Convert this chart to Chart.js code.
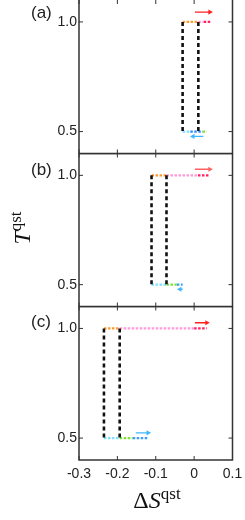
<!DOCTYPE html>
<html>
<head>
<meta charset="utf-8">
<script src="https://cdn.jsdelivr.net/npm/chart.js@4/dist/chart.umd.min.js"></script>
<style>
  body { margin: 0; background: #fff; }
  #wrap { position: relative; width: 245px; height: 520px; overflow: hidden; }
  canvas { position: absolute; left: 0; }
  .tag { position: absolute; left: 31px; font: 17px 'Liberation Sans', Arial, sans-serif; line-height: 17px; color: #222; }
  .ttl { position: absolute; font-family: 'Liberation Serif', 'Times New Roman', serif; font-size: 24px; color: #111; white-space: nowrap; line-height: 1; }
  .ttl sup { font-size: 17px; vertical-align: 9px; }
</style>
</head>
<body>
<div id="wrap">
  <canvas id="pa" width="245" height="155" style="top:0px"></canvas>
  <canvas id="pb" width="245" height="155" style="top:153px"></canvas>
  <canvas id="pc" width="245" height="214" style="top:306px"></canvas>
  <div class="tag" style="top:4px">(a)</div>
  <div class="tag" style="top:161px">(b)</div>
  <div class="tag" style="top:313px">(c)</div>
  <div class="ttl" id="ytitle" style="left:20px; top:228px; transform: translate(-50%,-50%) rotate(-90deg);"><i>T</i><sup>qst</sup></div>
  <div class="ttl" id="xtitle" style="left:157px; top:498px; transform: translate(-50%,-50%);">&Delta;<i>S</i><sup>qst</sup></div>
</div>
<script>
'use strict'
const xTicks = [-0.3, -0.2, -0.1, 0, 0.1];
const yTicks = [0.5, 1.0];
const tHot = 1.0;
const tCold = 0.5;

// one entry per panel (a), (b), (c)
const jumpX = [[-0.030, 0.011], [-0.111, -0.072], [-0.235, -0.194]];
// break points along T = 1.0 : orange | pink | red
const hotX = [
  [-0.030, 0.011, 0.025, 0.044],
  [-0.111, -0.072, 0.010, 0.041],
  [-0.235, -0.194, 0.000, 0.033],
];
// break points along T = 0.5
const coldX = [
  [-0.030, -0.010, 0.022, 0.033],
  [-0.111, -0.072, -0.045, -0.030],
  [-0.235, -0.194, -0.160, -0.120],
];
const hotArrowX = [[0.002, 0.041], [0.002, 0.041], [0.002, 0.033]];
const hotArrowT = [1.045, 1.028, 1.026];
const coldArrowX = [[0.024, -0.003], [-0.030, -0.037], [-0.152, -0.120]];
const coldArrowT = [0.478, 0.479, 0.524];

const hotColors = ['#ff9a30', '#ff9ad8', '#ff2060'];
const coldColors = [
  ['#80e0ff', '#2a8cff', '#80e03a'],
  ['#80e0ff', '#80e03a', '#3a9cff'],
  ['#80e0ff', '#80e03a', '#3a9cff'],
];
const hotArrowColor = ['#ff2020', '#ff6060', '#ff2020'];
const coldArrowColor = '#40b8ff';

const framePlugin = {
  id: 'frame',
  afterDraw(chart, args, opts) {
    const ctx = chart.ctx;
    const a = chart.chartArea;
    const x = chart.scales.x;
    const y = chart.scales.y;
    ctx.save();
    ctx.strokeStyle = '#333';
    ctx.lineWidth = 1.5;
    ctx.beginPath();
    if (opts.top !== false) {
      ctx.moveTo(a.left, a.top); ctx.lineTo(a.right, a.top);
    }
    ctx.moveTo(a.right, a.top); ctx.lineTo(a.right, a.bottom);
    ctx.lineTo(a.left, a.bottom); ctx.lineTo(a.left, a.top);
    ctx.stroke();
    ctx.lineWidth = 1;
    ctx.beginPath();
    xTicks.forEach(function (v) {
      const px = x.getPixelForValue(v);
      ctx.moveTo(px, a.top); ctx.lineTo(px, a.top + 4);
      ctx.moveTo(px, a.bottom); ctx.lineTo(px, a.bottom - 4);
    });
    yTicks.forEach(function (v) {
      const py = y.getPixelForValue(v);
      ctx.moveTo(a.left, py); ctx.lineTo(a.left + 4, py);
      ctx.moveTo(a.right, py); ctx.lineTo(a.right - 4, py);
    });
    ctx.stroke();
    ctx.restore();
  }
};

function seg(x0, x1, t, color) {
  return {
    data: [{ x: x0, y: t }, { x: x1, y: t }],
    borderColor: color,
    borderWidth: 2.2,
    borderDash: [2.5, 1.5],
    pointRadius: 0,
  };
}

function arrow(xs, t, color) {
  return {
    data: [{ x: xs[0], y: t }, { x: xs[1], y: t }],
    borderColor: color,
    backgroundColor: color,
    borderWidth: 1.3,
    pointStyle: 'triangle',
    pointRadius: [0, 3],
    pointBorderWidth: 0,
    pointRotation: xs[1] > xs[0] ? 90 : -90,
  };
}

function noPad(s) {
  s.paddingTop = 0;
  s.paddingBottom = 0;
  s.paddingLeft = 0;
  s.paddingRight = 0;
}

function makePanel(id, i, bottomAxis, pad, topEdge) {
  let datasets = [];
  for (let k = 0; k < 2; k++) {
    datasets.push({
      data: [{ x: jumpX[i][k], y: tHot }, { x: jumpX[i][k], y: tCold }],
      borderColor: '#111',
      borderWidth: 2.6,
      borderDash: [4, 3],
      pointRadius: 0,
    });
  }
  for (let k = 0; k < 3; k++) {
    datasets.push(seg(hotX[i][k], hotX[i][k + 1], tHot, hotColors[k]));
    datasets.push(seg(coldX[i][k], coldX[i][k + 1], tCold, coldColors[i][k]));
  }
  datasets.push(arrow(hotArrowX[i], hotArrowT[i], hotArrowColor[i]));
  datasets.push(arrow(coldArrowX[i], coldArrowT[i], coldArrowColor));

  new Chart(document.getElementById(id), {
    type: 'line',
    data: { datasets: datasets },
    plugins: [framePlugin],
    options: {
      responsive: false,
      maintainAspectRatio: false,
      animation: false,
      layout: { padding: pad, autoPadding: false },
      plugins: {
        legend: { display: false },
        tooltip: { enabled: false },
        frame: { top: topEdge },
      },
      scales: {
        x: {
          type: 'linear',
          min: -0.3,
          max: 0.1,
          display: bottomAxis,
          grid: { display: false, drawTicks: false },
          border: { display: false },
          afterBuildTicks: function (s) { s.ticks = xTicks.map(function (v) { return { value: v }; }); },
          afterFit: function (s) { s.height = bottomAxis ? 30 : 0; noPad(s); },
          ticks: {
            padding: 6,
            color: '#222',
            font: { family: 'Liberation Sans', size: 14 },
            maxRotation: 0,
            callback: function (v) { return v === 0 ? '0' : v.toFixed(1); },
          },
        },
        y: {
          type: 'linear',
          min: 0.4,
          max: 1.1,
          grid: { display: false, drawTicks: false },
          border: { display: false },
          afterBuildTicks: function (s) { s.ticks = yTicks.map(function (v) { return { value: v }; }); },
          afterFit: function (s) { s.width = 79; noPad(s); },
          ticks: {
            padding: 2,
            color: '#222',
            font: { family: 'Liberation Sans', size: 14 },
            callback: function (v) { return v.toFixed(1); },
          },
        },
      },
    },
  });
}

makePanel('pa', 0, false, { left: 0, right: 12.5, top: 0, bottom: 1.5 }, false);
makePanel('pb', 1, false, { left: 0, right: 12.5, top: 0.5, bottom: 1.5 }, true);
makePanel('pc', 2, true, { left: 0, right: 12.5, top: 0.5, bottom: 30 }, true);
</script>
</body>
</html>
